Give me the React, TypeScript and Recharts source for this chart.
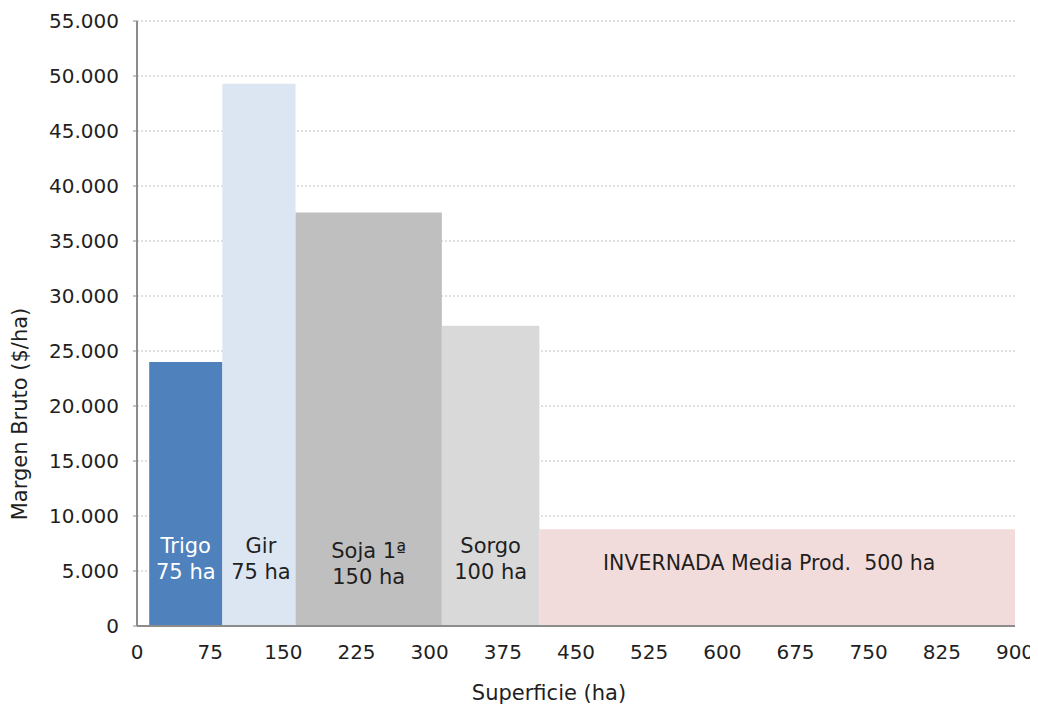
import React from 'react';
import { ComposedChart, XAxis, YAxis, CartesianGrid, ReferenceArea, Line } from 'recharts';

// ---- data ----
const cultivos = ['Trigo', 'Gir', 'Soja 1ª', 'Sorgo', 'INVERNADA Media Prod.  500 ha'];
const labelLines: string[][] = [
  ['Trigo', '75 ha'],
  ['Gir', '75 ha'],
  ['Soja 1ª', '150 ha'],
  ['Sorgo', '100 ha'],
  ['INVERNADA Media Prod.  500 ha'],
];
const hectareas = [75, 75, 150, 100, 500];
const margenBruto = [24000, 49300, 37600, 27300, 8800];
const xOrigin = 12.5;
const xTicks = [0, 75, 150, 225, 300, 375, 450, 525, 600, 675, 750, 825, 900];
const yTicks = [0, 5000, 10000, 15000, 20000, 25000, 30000, 35000, 40000, 45000, 50000, 55000];

// ---- styles ----
const fills = ['#4F81BD', '#DCE6F2', '#BFBFBF', '#D9D9D9', '#F2DCDB'];
const textColors = ['#FFFFFF', '#1F1F1F', '#1F1F1F', '#1F1F1F', '#1F1F1F'];
const labelLift = [80, 80, 75, 80, 63];
const labelDx = [0, 2, 0, 0, -8];
const FONT = '"DejaVu Sans", sans-serif';
const XMAX = 900;

const fmt = (v: number) => String(v).replace(/\B(?=(\d{3})+(?!\d))/g, '.');

let acc = xOrigin;
const bars = hectareas.map((h, i) => {
  const x1 = acc;
  const x2 = Math.min(acc + h, XMAX);
  acc += h;
  return { name: cultivos[i], x1, x2, y: margenBruto[i] };
});
const chartData = bars.map((b) => ({ x: (b.x1 + b.x2) / 2, y: b.y }));

const makeLabel = (i: number) => (props: any) => {
  const vb = props.viewBox || {};
  const cx = vb.x + vb.width / 2 + labelDx[i];
  const bottom = vb.y + vb.height;
  const lines = labelLines[i];
  return (
    <g>
      {lines.map((t, k) => (
        <text
          key={k}
          x={cx}
          y={bottom - labelLift[i] + k * 26}
          textAnchor="middle"
          dominantBaseline="central"
          fill={textColors[i]}
          fontSize={i === 4 ? 20.5 : 21}
          fontFamily={FONT}
          style={{ whiteSpace: 'pre' }}
        >
          {t}
        </text>
      ))}
    </g>
  );
};

const YTitle = () => {
  const x = 12;
  const y = 406;
  return (
    <text x={x} y={y} transform={`rotate(-90, ${x}, ${y})`} textAnchor="middle" dominantBaseline="central"
      fontSize={21} fontFamily={FONT} fill="#1F1F1F">
      Margen Bruto ($/ha)
    </text>
  );
};

const XTitle = () => {
  return (
    <text x={541} y={685} textAnchor="middle" dominantBaseline="central" fontSize={21} fontFamily={FONT} fill="#1F1F1F">
      Superficie (ha)
    </text>
  );
};

export default function App() {
  return (
    <ComposedChart
      width={1030}
      height={705}
      data={chartData}
      margin={{ top: 13, right: 23, bottom: 0, left: 0 }}
    >
      <CartesianGrid horizontal vertical={false} stroke="#BFBFBF" strokeDasharray="2 2" />
      <XAxis
        type="number"
        dataKey="x"
        domain={[0, XMAX]}
        ticks={xTicks}
        interval={0}
        height={87}
        tickLine={false}
        axisLine={{ stroke: '#8C8C8C', strokeWidth: 2 }}
        tick={{ fontSize: 20, fill: '#1F1F1F', fontFamily: FONT }}
        tickMargin={13}
        allowDataOverflow
        label={<XTitle />}
      />
      <YAxis
        type="number"
        domain={[0, 55000]}
        ticks={yTicks}
        interval={0}
        width={129}
        tickSize={4}
        tickLine={{ stroke: '#8C8C8C' }}
        axisLine={{ stroke: '#8C8C8C', strokeWidth: 2 }}
        tick={{ fontSize: 20, fill: '#1F1F1F', fontFamily: FONT }}
        tickMargin={14}
        tickFormatter={fmt}
        label={<YTitle />}
      />
      {bars.map((b, i) => (
        <ReferenceArea
          key={b.name}
          x1={b.x1}
          x2={b.x2}
          y1={0}
          y2={b.y}
          fill={fills[i]}
          fillOpacity={1}
          stroke="none"
          ifOverflow="hidden"
          label={makeLabel(i)}
        />
      ))}
      <Line dataKey="y" stroke="none" dot={false} activeDot={false} isAnimationActive={false} legendType="none" />
    </ComposedChart>
  );
}
